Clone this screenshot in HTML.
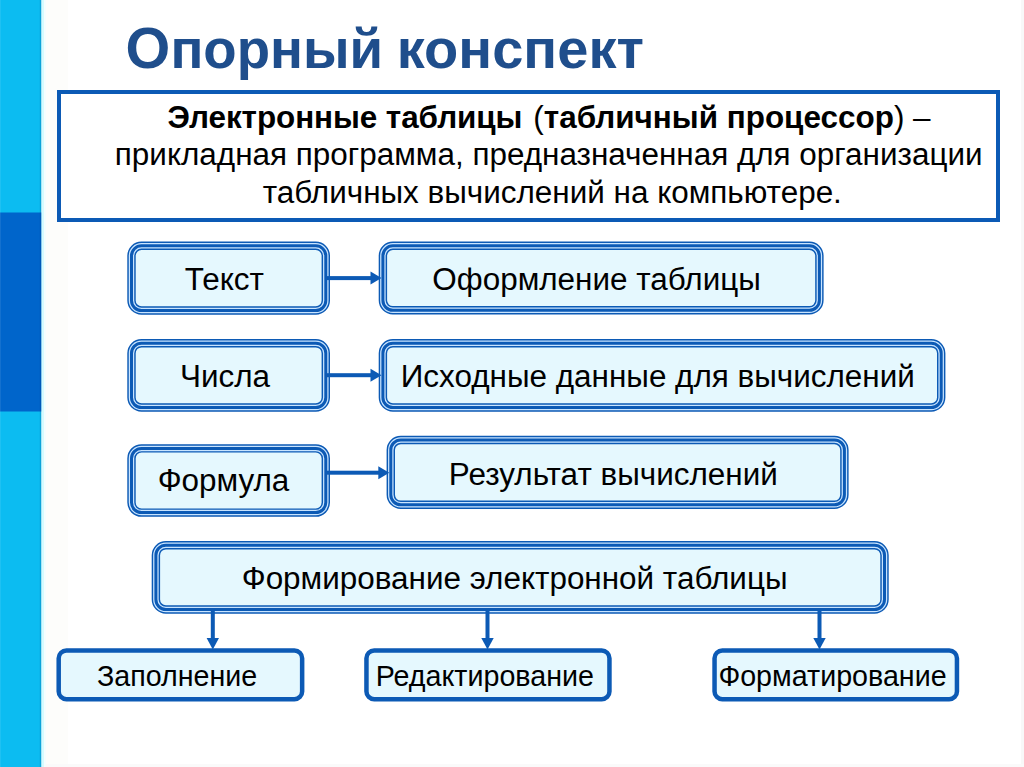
<!DOCTYPE html>
<html lang="ru"><head><meta charset="utf-8"><title>Опорный конспект</title>
<style>
html,body{margin:0;padding:0;background:#fff;}
body{width:1024px;height:767px;overflow:hidden;position:relative;font-family:"Liberation Sans",sans-serif;}
svg{position:absolute;left:0;top:0;display:block}
svg text{font-family:"Liberation Sans",sans-serif;}
</style></head><body>
<svg width="1024" height="767" viewBox="0 0 1024 767">
<rect x="0" y="0" width="41.5" height="767" fill="#0CBCF1"/>
<rect x="0" y="212.5" width="41.5" height="199" fill="#0065CB"/>
<rect x="39.8" y="0" width="1.7" height="767" fill="#001850" fill-opacity="0.14"/>
<rect x="0" y="0" width="1" height="767" fill="#ffffff" fill-opacity="0.08"/>
<rect x="41.5" y="0" width="2.5" height="767" fill="#D6FBFF"/>
<rect x="44" y="0" width="2" height="767" fill="#F4FEFF"/>
<rect x="46" y="0" width="22" height="767" fill="#FDFDFB"/>
<rect x="1021" y="0" width="3" height="767" fill="#F8F8F8"/>
<rect x="46" y="764" width="978" height="3" fill="#FAFAFA"/>
<rect x="59" y="92" width="939" height="128" fill="#fff" stroke="#0C5AB5" stroke-width="4"/>
<rect x="131.50" y="245.80" width="194.30" height="64.70" rx="10" ry="10" fill="#E5F8FE" stroke="#0C5AB5" stroke-width="8.4"/><rect x="131.50" y="245.80" width="194.30" height="64.70" rx="10" ry="10" fill="none" stroke="#C8E4FF" stroke-width="5.5"/><rect x="131.50" y="245.80" width="194.30" height="64.70" rx="10" ry="10" fill="none" stroke="#0C5AB5" stroke-width="3"/>
<rect x="382.90" y="245.80" width="436.50" height="64.50" rx="10" ry="10" fill="#E5F8FE" stroke="#0C5AB5" stroke-width="8.4"/><rect x="382.90" y="245.80" width="436.50" height="64.50" rx="10" ry="10" fill="none" stroke="#C8E4FF" stroke-width="5.5"/><rect x="382.90" y="245.80" width="436.50" height="64.50" rx="10" ry="10" fill="none" stroke="#0C5AB5" stroke-width="3"/>
<rect x="131.50" y="343.20" width="194.30" height="64.30" rx="10" ry="10" fill="#E5F8FE" stroke="#0C5AB5" stroke-width="8.4"/><rect x="131.50" y="343.20" width="194.30" height="64.30" rx="10" ry="10" fill="none" stroke="#C8E4FF" stroke-width="5.5"/><rect x="131.50" y="343.20" width="194.30" height="64.30" rx="10" ry="10" fill="none" stroke="#0C5AB5" stroke-width="3"/>
<rect x="382.90" y="343.20" width="558.30" height="64.30" rx="10" ry="10" fill="#E5F8FE" stroke="#0C5AB5" stroke-width="8.4"/><rect x="382.90" y="343.20" width="558.30" height="64.30" rx="10" ry="10" fill="none" stroke="#C8E4FF" stroke-width="5.5"/><rect x="382.90" y="343.20" width="558.30" height="64.30" rx="10" ry="10" fill="none" stroke="#0C5AB5" stroke-width="3"/>
<rect x="131.50" y="448.40" width="194.30" height="64.20" rx="10" ry="10" fill="#E5F8FE" stroke="#0C5AB5" stroke-width="8.4"/><rect x="131.50" y="448.40" width="194.30" height="64.20" rx="10" ry="10" fill="none" stroke="#C8E4FF" stroke-width="5.5"/><rect x="131.50" y="448.40" width="194.30" height="64.20" rx="10" ry="10" fill="none" stroke="#0C5AB5" stroke-width="3"/>
<rect x="390.80" y="440.00" width="453.60" height="64.80" rx="10" ry="10" fill="#E5F8FE" stroke="#0C5AB5" stroke-width="8.4"/><rect x="390.80" y="440.00" width="453.60" height="64.80" rx="10" ry="10" fill="none" stroke="#C8E4FF" stroke-width="5.5"/><rect x="390.80" y="440.00" width="453.60" height="64.80" rx="10" ry="10" fill="none" stroke="#0C5AB5" stroke-width="3"/>
<rect x="155.90" y="545.20" width="728.60" height="64.30" rx="10" ry="10" fill="#E5F8FE" stroke="#0C5AB5" stroke-width="8.4"/><rect x="155.90" y="545.20" width="728.60" height="64.30" rx="10" ry="10" fill="none" stroke="#C8E4FF" stroke-width="5.5"/><rect x="155.90" y="545.20" width="728.60" height="64.30" rx="10" ry="10" fill="none" stroke="#0C5AB5" stroke-width="3"/>
<rect x="58.70" y="650.45" width="243.45" height="48.70" rx="7.75" ry="7.75" fill="#E5F8FE" stroke="#0C5AB5" stroke-width="4.5"/>
<rect x="366.45" y="650.45" width="243.00" height="48.70" rx="7.75" ry="7.75" fill="#E5F8FE" stroke="#0C5AB5" stroke-width="4.5"/>
<rect x="714.55" y="650.45" width="242.40" height="48.70" rx="7.75" ry="7.75" fill="#E5F8FE" stroke="#0C5AB5" stroke-width="4.5"/>
<rect x="325.7" y="276.10" width="45.80" height="4" fill="#0C5AB5"/><polygon points="370.50,271.60 381.50,278.10 370.50,284.60" fill="#0C5AB5"/>
<rect x="325.7" y="373.20" width="45.80" height="4" fill="#0C5AB5"/><polygon points="370.50,368.70 381.50,375.20 370.50,381.70" fill="#0C5AB5"/>
<rect x="325.7" y="470.70" width="53.60" height="4" fill="#0C5AB5"/><polygon points="378.30,466.20 389.30,472.70 378.30,479.20" fill="#0C5AB5"/>
<rect x="210.80" y="609" width="4" height="30.50" fill="#0C5AB5"/><polygon points="206.60,638.00 212.80,649.50 219.00,638.00" fill="#0C5AB5"/>
<rect x="485.50" y="609" width="4" height="30.50" fill="#0C5AB5"/><polygon points="481.30,638.00 487.50,649.50 493.70,638.00" fill="#0C5AB5"/>
<rect x="817.50" y="609" width="4" height="30.50" fill="#0C5AB5"/><polygon points="813.30,638.00 819.50,649.50 825.70,638.00" fill="#0C5AB5"/>
<text x="125.60" y="68.30" font-size="55" font-weight="bold" fill="#1F4E8C" textLength="257.60" lengthAdjust="spacingAndGlyphs"><tspan font-size="58">О</tspan>порный</text>
<text x="396.80" y="68.30" font-size="55" font-weight="bold" fill="#1F4E8C" textLength="247.10" lengthAdjust="spacingAndGlyphs">конспект</text>
<text x="167.5" y="127.7" font-size="31.45" font-weight="bold" letter-spacing="-0.07">Электронные таблицы</text>
<text x="930.6" y="127.7" font-size="31.45" text-anchor="end">(<tspan font-weight="bold">табличный процессор</tspan>) –</text>
<text x="548.70" y="165.10" font-size="31.45" font-weight="normal" fill="#000" text-anchor="middle" >прикладная программа, предназначенная для организации</text>
<text x="552.30" y="203.00" font-size="31.45" font-weight="normal" fill="#000" text-anchor="middle" >табличных вычислений на компьютере.</text>
<text x="224.30" y="289.70" font-size="31.45" font-weight="normal" fill="#000" text-anchor="middle" >Текст</text>
<text x="596.62" y="289.70" font-size="31.45" font-weight="normal" fill="#000" text-anchor="middle" >Оформление таблицы</text>
<text x="225.00" y="386.90" font-size="31.45" font-weight="normal" fill="#000" text-anchor="middle" >Числа</text>
<text x="657.80" y="386.80" font-size="31.45" font-weight="normal" fill="#000" text-anchor="middle" >Исходные данные для вычислений</text>
<text x="223.50" y="490.70" font-size="31.45" font-weight="normal" fill="#000" text-anchor="middle" >Формула</text>
<text x="613.35" y="484.50" font-size="31.45" font-weight="normal" fill="#000" text-anchor="middle" >Результат вычислений</text>
<text x="514.62" y="588.90" font-size="31.45" font-weight="normal" fill="#000" text-anchor="middle" >Формирование электронной таблицы</text>
<text x="177.05" y="685.60" font-size="28.65" font-weight="normal" fill="#000" text-anchor="middle" >Заполнение</text>
<text x="484.80" y="685.60" font-size="28.65" font-weight="normal" fill="#000" text-anchor="middle" >Редактирование</text>
<text x="832.50" y="685.60" font-size="28.65" font-weight="normal" fill="#000" text-anchor="middle" >Форматирование</text>
</svg>
</body></html>
